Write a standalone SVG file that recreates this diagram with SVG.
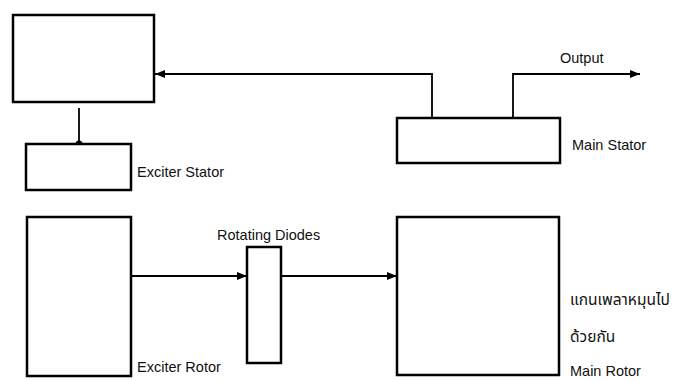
<svg xmlns="http://www.w3.org/2000/svg" width="677" height="381" viewBox="0 0 677 381">
<style>
.box{fill:#fff;stroke:#000;stroke-width:2.5}
.con{fill:none;stroke:#000;stroke-width:1.8}
.lbl{font-family:"Liberation Sans",Arial,sans-serif;font-size:14.5px;fill:#111}
.th{font-family:"Noto Sans Thai","Noto Sans","DejaVu Sans","Liberation Sans",sans-serif;font-size:15.5px;fill:#111}
</style>
<defs>
<marker id="ah" viewBox="0 0 10 8" refX="10" refY="4" markerWidth="10" markerHeight="8" markerUnits="userSpaceOnUse" orient="auto">
<path d="M0,0 L10,4 L0,8 Z" fill="#000"/>
</marker>
</defs>
<rect width="677" height="381" fill="#fff"/>
<g id="connectors">
<path class="con" d="M432,118 V74 H155" marker-end="url(#ah)"/>
<path class="con" d="M513,118 V74 H640" marker-end="url(#ah)"/>
<path class="con" d="M79,108 V152"/>
<circle cx="79" cy="144" r="3.5" fill="#000"/>
<path class="con" d="M131,276 H247" marker-end="url(#ah)"/>
<path class="con" d="M281,276 H397" marker-end="url(#ah)"/>
</g>
<g id="top-box">
<rect class="box" x="13" y="15" width="141" height="87"/>
</g>
<g id="exciter-stator">
<rect class="box" x="26" y="144" width="105" height="46"/>
<text class="lbl" x="137" y="177">Exciter  Stator</text>
</g>
<g id="main-stator">
<rect class="box" x="397" y="118" width="163" height="45"/>
<text class="lbl" x="572" y="150">Main Stator</text>
</g>
<g id="output">
<text class="lbl" x="560" y="63">Output</text>
</g>
<g id="exciter-rotor">
<rect class="box" x="27" y="217" width="104" height="159"/>
<text class="lbl" x="137" y="372">Exciter Rotor</text>
</g>
<g id="rotating-diodes">
<rect class="box" x="247" y="247" width="34" height="116"/>
<text class="lbl" x="217" y="240">Rotating Diodes</text>
</g>
<g id="main-rotor">
<rect class="box" x="397" y="217" width="162" height="158"/>
<text class="th" x="570" y="305">แกนเพลาหมุนไป</text>
<text class="th" x="570" y="342">ด้วยกัน</text>
<text class="lbl" x="570" y="376">Main Rotor</text>
</g>
</svg>
